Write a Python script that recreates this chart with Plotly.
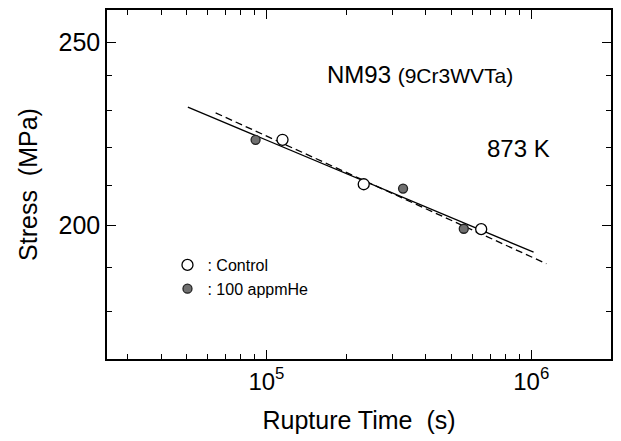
import plotly.graph_objects as go

# Data
control_time = [1.15e5, 2.33e5, 6.47e5]
control_stress = [222.0, 210.3, 199.1]
he_time = [9.1e4, 3.28e5, 5.56e5]
he_stress = [222.0, 209.2, 199.2]

solid_time = [5.05e4, 1.02e6]
solid_stress = [231.0, 193.6]
dashed_time = [6.43e4, 1.14e6]
dashed_stress = [229.4, 190.9]

x_major = [1e5, 1e6]
x_major_text = ["10<sup>5</sup>", "10<sup>6</sup>"]
x_minor = [3e4, 4e4, 5e4, 6e4, 7e4, 8e4, 9e4, 2e5, 3e5, 4e5, 5e5, 6e5, 7e5, 8e5, 9e5]
y_major = [200, 250]
y_minor = [180, 190, 210, 220, 230, 240]

FONT = "Liberation Sans, Arial, sans-serif"

fig = go.Figure()
fig.add_trace(go.Scatter(x=solid_time, y=solid_stress, mode="lines",
                         line=dict(color="black", width=1.3), showlegend=False))
fig.add_trace(go.Scatter(x=dashed_time, y=dashed_stress, mode="lines",
                         line=dict(color="black", width=1.3, dash="7px,4px"), showlegend=False))
fig.add_trace(go.Scatter(x=control_time, y=control_stress, mode="markers", name=": Control",
                         marker=dict(symbol="circle", size=11, color="white",
                                     line=dict(color="black", width=1.3))))
fig.add_trace(go.Scatter(x=he_time, y=he_stress, mode="markers", name=": 100 appmHe",
                         marker=dict(symbol="circle", size=9, color="#707070",
                                     line=dict(color="#222222", width=1.3))))

fig.update_layout(
    width=621, height=441,
    margin=dict(l=107, r=9, t=8, b=82),
    paper_bgcolor="white", plot_bgcolor="white",
    font=dict(family=FONT, color="black"),
    legend=dict(x=0.12, y=0.318, xanchor="left", yanchor="top",
                font=dict(size=16, family=FONT), bgcolor="rgba(0,0,0,0)",
                tracegroupgap=2, itemwidth=30),
    annotations=[
        dict(x=0.621, y=0.815, xref="paper", yref="paper",
             text="NM93 <span style='font-size:21px'>(9Cr3WVTa)</span>",
             showarrow=False, font=dict(size=24, family=FONT), xanchor="center", yanchor="middle"),
        dict(x=0.816, y=0.604, xref="paper", yref="paper", text="873 K",
             showarrow=False, font=dict(size=24, family=FONT), xanchor="center", yanchor="middle"),
    ],
)

fig.update_xaxes(
    type="log", range=[4.398, 6.301],
    showline=True, linecolor="black", linewidth=1.5, mirror="allticks",
    showgrid=False, zeroline=False,
    ticks="inside", ticklen=9, tickwidth=1.3, tickcolor="black",
    tickmode="array", tickvals=x_major, ticktext=x_major_text,
    tickfont=dict(size=24, family=FONT),
    minor=dict(tickmode="array", tickvals=x_minor, ticks="inside", ticklen=5,
               tickwidth=1, tickcolor="black", showgrid=False),
    title=dict(text="Rupture Time  (s)", font=dict(size=25, family=FONT), standoff=18),
)
fig.update_yaxes(
    type="log", range=[2.2304, 2.4150],
    showline=True, linecolor="black", linewidth=1.5, mirror="allticks",
    showgrid=False, zeroline=False,
    ticks="inside", ticklen=9, tickwidth=1.3, tickcolor="black",
    tickmode="array", tickvals=y_major, ticktext=[str(v) for v in y_major],
    tickfont=dict(size=25, family=FONT),
    minor=dict(tickmode="array", tickvals=y_minor, ticks="inside", ticklen=5,
               tickwidth=1, tickcolor="black", showgrid=False),
    title=dict(text="Stress  (MPa)", font=dict(size=25, family=FONT), standoff=14),
)

fig.write_html("out.html")
